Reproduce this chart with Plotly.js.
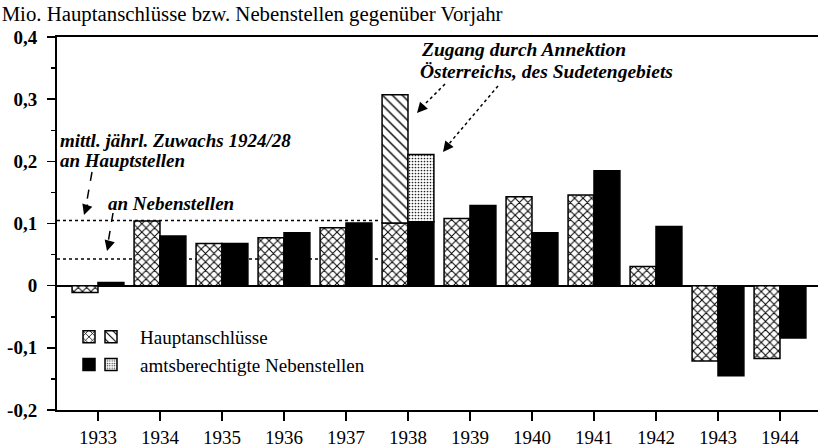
<!DOCTYPE html>
<html><head><meta charset="utf-8">
<script src="https://cdn.plot.ly/plotly-3.0.1.min.js"></script>
<style>html,body{margin:0;padding:0;background:#fff}</style>
</head><body><div id="chart" style="width:818px;height:447px"></div>
<script>
// ---- data ----
const years = [1933,1934,1935,1936,1937,1938,1939,1940,1941,1942,1943,1944];
const hauptanschluesse = [-0.011,0.104,0.068,0.077,0.093,0.101,0.108,0.143,0.146,0.031,-0.121,-0.117];
const nebenstellen     = [0.005,0.080,0.068,0.085,0.101,0.103,0.129,0.085,0.185,0.095,-0.145,-0.084];
const annexYears = [1938];
const annexHaupt = [0.206];   // Zugang durch Annektion (Hauptanschlüsse)
const annexNeben = [0.108];   // Zugang durch Annektion (Nebenstellen)
const avgHaupt = 0.105;       // mittl. jährl. Zuwachs 1924/28 an Hauptstellen
const avgNeben = 0.043;       // ... an Nebenstellen
const yTickVals = [-0.2,-0.1,0,0.1,0.2,0.3,0.4];
const yTickText = ['-0,2','-0,1','0','0,1','0,2','0,3','0,4'];
const yMinorVals = [-0.15,-0.05,0.05,0.15,0.25,0.35];

const F = 'Liberation Serif';
const annexBaseH = annexYears.map(y => hauptanschluesse[years.indexOf(y)]);
const annexBaseN = annexYears.map(y => nebenstellen[years.indexOf(y)]);

const W = 818, H = 447, ML = 57, MR = 0, MT = 37, MB = 37;
const pw = W - ML - MR, ph = H - MT - MB;
const px = x => (x - ML) / pw;          // pixel -> paper
const py = y => (H - MB - y) / ph;

const traces = [
  {type:'bar', x:years, y:hauptanschluesse, name:' ', offsetgroup:'H', legend:'legend',
   marker:{color:'#fff', line:{color:'#000', width:1.5},
           pattern:{shape:'x', fgcolor:'#000', bgcolor:'#fff', size:6, solidity:0.3}}},
  {type:'bar', x:years, y:nebenstellen, name:'  ', offsetgroup:'N', legend:'legend',
   marker:{color:'#000', line:{color:'#000', width:1.5}}},
  {type:'bar', x:annexYears, y:annexHaupt, base:annexBaseH, name:'Hauptanschlüsse', offsetgroup:'H', legend:'legend2',
   marker:{color:'#fff', line:{color:'#000', width:1.5},
           pattern:{shape:'\\', fgcolor:'#000', bgcolor:'#fff', size:7, solidity:0.2}}},
  {type:'bar', x:annexYears, y:annexNeben, base:annexBaseN, name:'amtsberechtigte Nebenstellen', offsetgroup:'N', legend:'legend2',
   marker:{color:'#fff', line:{color:'#000', width:1.5},
           pattern:{shape:'.', fgcolor:'#222', bgcolor:'#fff', size:3, solidity:0.25}}}
];

const xr = [1932.339, 1944.613];
const annFont = {family:F, size:19, color:'#000'};
const annFont2 = {family:F, size:19.5, color:'#000'};
const bi = s => '<b><i>' + s + '</i></b>';

function arrowHead(tx, ty, fx, fy, w) {
  return {xref:'paper', yref:'paper', x:px(tx), y:py(ty), ax:fx - tx, ay:fy - ty, axref:'pixel', ayref:'pixel',
          text:'', showarrow:true, arrowhead:2, arrowsize:1.4, arrowwidth:w, arrowcolor:'#000', standoff:0};
}
function lineShape(x0, y0, x1, y1, dash) {
  return {type:'line', xref:'paper', yref:'paper', x0:px(x0), y0:py(y0), x1:px(x1), y1:py(y1),
          line:{color:'#000', width:1.5, dash:dash}};
}

const layout = {
  width:W, height:H, margin:{l:ML, r:MR, t:MT, b:MB},
  paper_bgcolor:'#fff', plot_bgcolor:'#fff',
  font:{family:F, size:19, color:'#000'},
  title:{text:'Mio. Hauptanschlüsse bzw. Nebenstellen gegenüber Vorjahr', xref:'container', yref:'container',
         x:0.002, xanchor:'left', y:1 - 14/H, yanchor:'middle', font:{family:F, size:20.8, color:'#000'}},
  barmode:'group', bargap:0.164, bargroupgap:0,
  xaxis:{type:'linear', range:xr, tickmode:'array', tickvals:years, ticktext:years.map(String),
         showline:true, linecolor:'#000', linewidth:2, mirror:true, ticks:'outside', ticklen:9, tickwidth:1.5,
         tickcolor:'#000', showgrid:false, zeroline:false, tickfont:{family:F, size:19}, fixedrange:true},
  yaxis:{range:[-0.2, 0.4], tickmode:'array', tickvals:yTickVals, ticktext:yTickText,
         showline:true, linecolor:'#000', linewidth:2, ticks:'outside', ticklen:8, tickwidth:1.5, tickcolor:'#000',
         minor:{tickmode:'array', tickvals:yMinorVals, ticks:'outside', ticklen:4, tickwidth:1.5, tickcolor:'#000', showgrid:false},
         showgrid:false, zeroline:true, zerolinecolor:'#000', zerolinewidth:2,
         tickfont:{family:F, size:19, weight:'bold'}, ticklabelstandoff:6, fixedrange:true},
  legend:{x:px(69), xanchor:'left', y:py(318), yanchor:'top', bgcolor:'rgba(0,0,0,0)', borderwidth:0,
          font:{family:F, size:19}, tracegroupgap:0, itemwidth:30, traceorder:'normal'},
  legend2:{x:px(82), xanchor:'left', y:py(318), yanchor:'top', bgcolor:'rgba(0,0,0,0)', borderwidth:0,
          font:{family:F, size:19}, tracegroupgap:0, itemwidth:48, traceorder:'normal'},
  shapes:[
    {type:'line', xref:'x', yref:'y', x0:xr[0], x1:1937.55, y0:avgHaupt, y1:avgHaupt, layer:'below',
     line:{color:'#000', width:1.5, dash:'dot'}},
    {type:'line', xref:'x', yref:'y', x0:xr[0], x1:1937.55, y0:avgNeben, y1:avgNeben, layer:'below',
     line:{color:'#000', width:1.5, dash:'dot'}},
    lineShape(92, 172, 86, 206, 'dash'),
    lineShape(113, 213, 108, 243, 'dash'),
    lineShape(445, 84, 423, 106, 'dot'),
    lineShape(498, 86, 448, 145, 'dot')
  ],
  annotations:[
    {xref:'paper', yref:'paper', x:px(58), y:py(140), xanchor:'left', yanchor:'middle', showarrow:false,
     text:bi('mittl. jährl. Zuwachs 1924/28'), font:annFont},
    {xref:'paper', yref:'paper', x:px(58), y:py(160), xanchor:'left', yanchor:'middle', showarrow:false,
     text:bi('an Hauptstellen'), font:annFont},
    {xref:'paper', yref:'paper', x:px(106), y:py(203), xanchor:'left', yanchor:'middle', showarrow:false,
     text:bi('an Nebenstellen'), font:annFont},
    {xref:'paper', yref:'paper', x:px(419), y:py(49), xanchor:'left', yanchor:'middle', showarrow:false,
     text:bi('Zugang durch Annektion'), font:annFont2},
    {xref:'paper', yref:'paper', x:px(418), y:py(72), xanchor:'left', yanchor:'middle', showarrow:false,
     text:bi('Österreichs, des Sudetengebiets'), font:annFont2},
    arrowHead(84, 215, 88, 203, 1.5),
    arrowHead(107, 251, 110, 240, 1.5),
    arrowHead(417, 113, 425, 104, 1.5),
    arrowHead(443, 152, 450, 143, 1.5)
  ],
  separators:',.'
};

Plotly.newPlot('chart', traces, layout, {displayModeBar:false, staticPlot:true});
</script>
</body></html>
